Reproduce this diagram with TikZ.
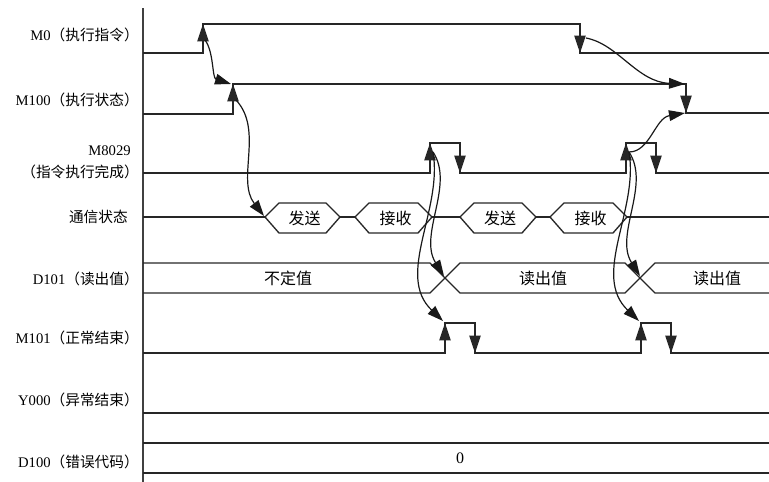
\documentclass[tikz,border=0pt]{standalone}
\usepackage{fontspec}
\setmainfont{Liberation Serif}
\newfontfamily\cjk{Noto Sans CJK SC}
\usetikzlibrary{arrows.meta}
\tikzset{
    axis/.style={
        line width=1.2pt,
        draw=black!75
    },
    sig/.style={
        line width=1pt,
        draw=black!85
    },
    edgearr/.style={
        -{Triangle[length=13pt,width=8.5pt]},
        line width=1pt,
        draw=black!85
    },
    cause/.style={
        -{Triangle[length=12pt,width=8pt]},
        line width=0.9pt,
        draw=black!90
    },
    lbl/.style={
        anchor=east,
        inner sep=0pt,
        font=\fontsize{11}{13}\selectfont
    },
    val/.style={
        inner sep=0pt,
        font=\cjk\fontsize{12}{14}\selectfont
    }
}
\begin{document}
\begin{tikzpicture}[x=0.75pt,y=-0.75pt]
\useasboundingbox (0,0) rectangle (769,482);
\draw[axis] (143,8) -- (143,482);

\node[lbl] (m0lbl) at (139,35) {M0{\cjk （执行指令）}};
\node[lbl] (m100lbl) at (139,100) {M100{\cjk （执行状态）}};
\node[lbl] (m8029lbl) at (131,151) {M8029};
\node[lbl] (m8029sub) at (139,172) {\cjk （指令执行完成）};
\node[lbl] (comlbl) at (128,217) {\cjk 通信状态};
\node[lbl] (d101lbl) at (139,279) {D101{\cjk （读出值）}};
\node[lbl] (m101lbl) at (139,338) {M101{\cjk （正常结束）}};
\node[lbl] (y000lbl) at (139,400) {Y000{\cjk （异常结束）}};
\node[lbl] (d100lbl) at (139,462) {D100{\cjk （错误代码）}};

\draw[sig] (143,53) -- (203,53) -- (203,24) -- (580,24) -- (580,53) -- (769,53);
\draw[sig] (143,114) -- (233,114) -- (233,84) -- (686,84) -- (686,113) -- (769,113);
\draw[sig] (143,173) -- (430,173) -- (430,143) -- (460,143) -- (460,173) -- (626,173) -- (626,143) -- (656,143) -- (656,173) -- (769,173);
\draw[sig] (143,217) -- (265,217) (340,217) -- (355,217) (432,217) -- (460,217) (536,217) -- (550,217) (627,217) -- (769,217);
\foreach \a/\b/\t/\n in {265/340/发送/tx1, 355/432/接收/rx1, 460/536/发送/tx2, 550/627/接收/rx2}{
    \draw[sig] (\a,217) -- (\a+14,203) -- (\b-14,203) -- (\b,217) -- (\b-14,233) -- (\a+14,233) -- cycle;
    \node[val] (\n) at ({(\a+\b)/2+2},218) {\t};
}
\draw[sig] (143,263) -- (430,263) -- (460,293) -- (625,293) -- (655,263) -- (769,263);
\draw[sig] (143,293) -- (430,293) -- (460,263) -- (625,263) -- (655,293) -- (769,293);
\node[val] (undef) at (288,278) {不定值};
\node[val] (rd1) at (543,278) {读出值};
\node[val] (rd2) at (717,278) {读出值};
\draw[sig] (143,353) -- (445,353) -- (445,323) -- (475,323) -- (475,353) -- (641,353) -- (641,323) -- (671,323) -- (671,353) -- (769,353);
\draw[sig] (143,413) -- (769,413);
\draw[sig] (143,443) -- (769,443);
\draw[sig] (143,473) -- (769,473);
\node[inner sep=0pt, font=\fontsize{12}{14}\selectfont] (err) at (460,458) {0};

\draw[edgearr] (203,53) -- (203,24);
\draw[edgearr] (580,24) -- (580,53);
\draw[edgearr] (233,114) -- (233,84);
\draw[edgearr] (686,84) -- (686,113);
\foreach \dx in {0,196}{
    \draw[edgearr] (430+\dx,173) -- (430+\dx,143);
    \draw[edgearr] (460+\dx,143) -- (460+\dx,173);
    \draw[edgearr] (445+\dx,353) -- (445+\dx,323);
    \draw[edgearr] (475+\dx,323) -- (475+\dx,353);
}

\coordinate (m0up) at (205,40);
\coordinate (m100top) at (231,84);
\coordinate (m100up) at (236,100);
\coordinate (m0dn) at (586,38);
\coordinate (m100fall) at (685,84);
\coordinate (m100low) at (685,113);
\draw[cause] (m0up) .. controls +(9,12) and +(-19,-6) .. (m100top);
\draw[cause] (m100up) .. controls +(28,30) and +(-28,-36) .. (264,216);
\draw[cause] (m0dn) .. controls +(32,6) and +(-48,-2) .. (m100fall);
\foreach \dx/\k in {0/1,196/2}{
    \coordinate (ok\k) at (433+\dx,152);
    \coordinate (dx\k) at (444+\dx,276);
    \coordinate (ne\k) at (443+\dx,321);
    \draw[cause] (ok\k) .. controls +(22,33) and +(-26,-41) .. (dx\k);
    \draw[cause] (ok\k) .. controls +(10,58) and +(-48,-46) .. (ne\k);
}
\draw[cause] (ok2) .. controls +(21,0) and +(-30,5) .. (m100low);
\end{tikzpicture}
\end{document}
